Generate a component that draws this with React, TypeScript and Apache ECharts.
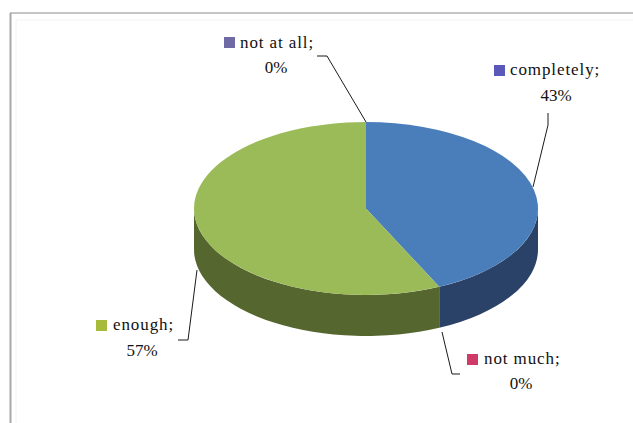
import React, { useEffect, useRef } from "react";
import * as echarts from "echarts";

const categories = ["completely", "not much", "enough", "not at all"];
const percents = [43, 0, 57, 0];

const keyColors = ["#5a58b8", "#cf3a68", "#a8ba3c", "#6f6aa6"];
const topColors = ["#4a7ebb", "#c0504d", "#9bbb59", "#8064a2"];
const wallColors = ["#2a4267", "#6e2c2a", "#56662f", "#473857"];

const CX = 366, CY = 208.5, RX = 172, RY = 86.5, DEPTH = 41;
const FONT = "'Liberation Serif', serif";
const FONT_SIZE = 17;

// Label layout, in the order of categories: key box, first line start, second line centre, leader points
const labelLayout = [
  { key: [494, 65], line1: [510, 69], line2: [556, 95], leader: [[548, 113], [548, 125], [533, 187]] },
  { key: [467, 354], line1: [484, 358], line2: [521, 383], leader: [[442, 332], [452, 374], [460, 374]] },
  { key: [96, 320], line1: [113, 324], line2: [142, 350], leader: [[178, 340], [188, 340], [197, 270]] },
  { key: [224, 37], line1: [240, 42], line2: [276, 67], leader: [[317, 56], [327, 56], [366, 122]] },
];

function pt(a: number, dy = 0): [number, number] {
  return [CX + RX * Math.sin(a), CY - RY * Math.cos(a) + dy];
}

function arc(a: number, b: number, dy: number, sweep: number) {
  const [x, y] = pt(b, dy);
  const large = Math.abs(b - a) > Math.PI ? 1 : 0;
  return `A ${RX} ${RY} 0 ${large} ${sweep} ${x} ${y}`;
}

function wallPath(a1: number, a2: number) {
  const start = Math.max(a1, Math.PI / 2);
  const end = Math.min(a2, (3 * Math.PI) / 2);
  if (end <= start) return null;
  const [sx, sy] = pt(start);
  const [ex, ey] = pt(end, DEPTH);
  return `M ${sx} ${sy} ${arc(start, end, 0, 1)} L ${ex} ${ey} ${arc(end, start, DEPTH, 0)} Z`;
}

function topPath(a1: number, a2: number) {
  const [sx, sy] = pt(a1);
  return `M ${CX} ${CY} L ${sx} ${sy} ${arc(a1, a2, 0, 1)} Z`;
}

export default function App() {
  const ref = useRef<HTMLDivElement>(null);
  useEffect(() => {
    document.body.style.margin = "0";
    document.body.style.background = "#fff";
    const chart = echarts.init(ref.current!, null, { renderer: "svg" });
    const total = percents.reduce((s, v) => s + v, 0);
    const startAngles: number[] = [];
    percents.reduce((acc, v) => {
      startAngles.push((acc / total) * 2 * Math.PI);
      return acc + v;
    }, 0);

    const graphic: any[] = [
      { type: "line", shape: { x1: 10, y1: 13, x2: 633, y2: 13 }, style: { stroke: "#8a8a8a", lineWidth: 1 } },
      { type: "line", shape: { x1: 10.5, y1: 13, x2: 10.5, y2: 423 }, style: { stroke: "#a8a8a8", lineWidth: 2 } },
      { type: "line", shape: { x1: 16, y1: 20, x2: 633, y2: 20 }, style: { stroke: "#f2f2f2", lineWidth: 1 } },
      { type: "line", shape: { x1: 16, y1: 20, x2: 16, y2: 423 }, style: { stroke: "#f2f2f2", lineWidth: 1 } },
    ];
    categories.forEach((name, i) => {
      const l = labelLayout[i];
      graphic.push(
        { type: "polyline", z: 10, shape: { points: l.leader }, style: { stroke: "#1a1a1a", lineWidth: 1, fill: "none" } },
        { type: "rect", z: 10, shape: { x: l.key[0], y: l.key[1], width: 11, height: 11 }, style: { fill: keyColors[i] } },
        { type: "text", z: 10, x: l.line1[0], y: l.line1[1], style: { text: `${name};`, font: `${FONT_SIZE}px ${FONT}`, fill: "#111", textAlign: "left", textVerticalAlign: "middle" } },
        { type: "text", z: 10, x: l.line2[0], y: l.line2[1], style: { text: `${percents[i]}%`, font: `${FONT_SIZE}px ${FONT}`, fill: "#121212", textAlign: "center", textVerticalAlign: "middle" } }
      );
    });

    chart.setOption({
      animation: false,
      backgroundColor: "#ffffff",
      graphic,
      series: [
        {
          type: "custom",
          coordinateSystem: "none",
          silent: true,
          data: percents.map((v, i) => [i, v]),
          renderItem: (params: any, api: any) => {
            const i = api.value(0);
            const v = api.value(1);
            if (!v) return { type: "group", children: [] };
            const a1 = startAngles[i];
            const a2 = a1 + (v / total) * 2 * Math.PI;
            const children: any[] = [];
            const wall = wallPath(a1, a2);
            if (wall) children.push({ type: "path", shape: { pathData: wall }, style: { fill: wallColors[i] } });
            children.push({ type: "path", shape: { pathData: topPath(a1, a2) }, style: { fill: topColors[i] } });
            return { type: "group", children };
          },
        },
      ],
    });
    return () => chart.dispose();
  }, []);
  return (
    <div>
      <style>{`svg text[fill="#111"] { letter-spacing: 0.9px; }`}</style>
      <div ref={ref} style={{ width: 633, height: 423 }} />
    </div>
  );
}
